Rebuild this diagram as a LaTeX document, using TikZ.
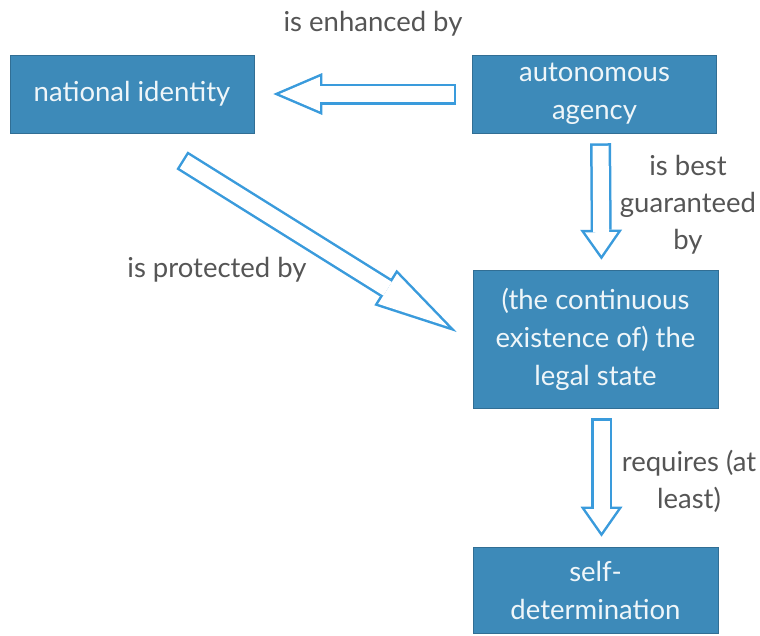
\documentclass[tikz,border=0pt]{standalone}
\usepackage{fontspec}
\setmainfont{Lato}
\usetikzlibrary{arrows.meta,positioning}

\definecolor{boxblue}{RGB}{61,138,185}
\definecolor{arrowblue}{RGB}{58,155,220}
\definecolor{labelgray}{RGB}{85,85,85}

\tikzset{
  concept/.style={draw=boxblue!80!black, line width=0.6pt, fill=boxblue, text=white!92!boxblue,
    align=center, inner sep=0pt, minimum width=244pt, font=\fontsize{27.5}{38}\selectfont},
  linklabel/.style={text=labelgray, align=center, font=\fontsize{27.5}{37}\selectfont},
  outerarrow/.style={draw=arrowblue, line width=21pt, -{Triangle[length=#1,width=42pt,line width=0pt]}},
  innerarrow/.style 2 args={draw=white, line width=16pt, -{Triangle[length=#1,width=#2,line width=0pt]}},
}

\begin{document}
\begin{tikzpicture}[x=1pt,y=-1pt]

    \useasboundingbox (0,0) rectangle (760,635);

    % concepts
    \node[concept, minimum height=78pt] (nat) at (132,94) {national identity};
    \node[concept, minimum height=78pt] (aut) at (594.5,94) {autonomous\\agency};
    \node[concept, minimum height=138pt, minimum width=245pt] (leg) at (595.5,339) {(the continuous\\existence of) the\\legal state};
    \node[concept, minimum height=86pt, minimum width=245pt] (self) at (595.5,590) {self-\\determination};

    % links
    %%% is enhanced by
    \draw[outerarrow=49pt, shorten <=16pt, shorten >=19pt] (aut.west) -- (nat.east);
    \draw[innerarrow={40.2pt}{34.4pt}, shorten <=18.5pt, shorten >=25.3pt] (aut.west) -- (nat.east);
    %%% is best guaranteed by
    \draw[outerarrow=30pt, shorten <=10pt, shorten >=10pt] ([xshift=6pt]aut.south) -- ([xshift=6pt]leg.north);
    \draw[innerarrow={23.1pt}{32.4pt}, shorten <=12.5pt, shorten >=14.4pt] ([xshift=6pt]aut.south) -- ([xshift=6pt]leg.north);
    %%% is protected by
    \draw[outerarrow=84pt] ([shift={(50,27)}]nat.south) -- ([shift={(-16,-7)}]leg.west);
    \draw[innerarrow={71.2pt}{35.6pt}, shorten <=2.5pt, shorten >=10.3pt] ([shift={(50,27)}]nat.south) -- ([shift={(-16,-7)}]leg.west);
    %%% requires (at least)
    \draw[outerarrow=30pt, shorten <=10pt, shorten >=10pt] ([xshift=6pt]leg.south) -- ([xshift=6pt]self.north);
    \draw[innerarrow={23.1pt}{32.4pt}, shorten <=12.5pt, shorten >=14.4pt] ([xshift=6pt]leg.south) -- ([xshift=6pt]self.north);

    % link labels
    \node[linklabel] (enh) at (373,24) {is enhanced by};
    \node[linklabel] (gua) at (688,205) {is best\\guaranteed\\by};
    \node[linklabel] (pro) at (217,270) {is protected by};
    \node[linklabel] (req) at (689,481.5) {requires (at\\least)};

\end{tikzpicture}
\end{document}
